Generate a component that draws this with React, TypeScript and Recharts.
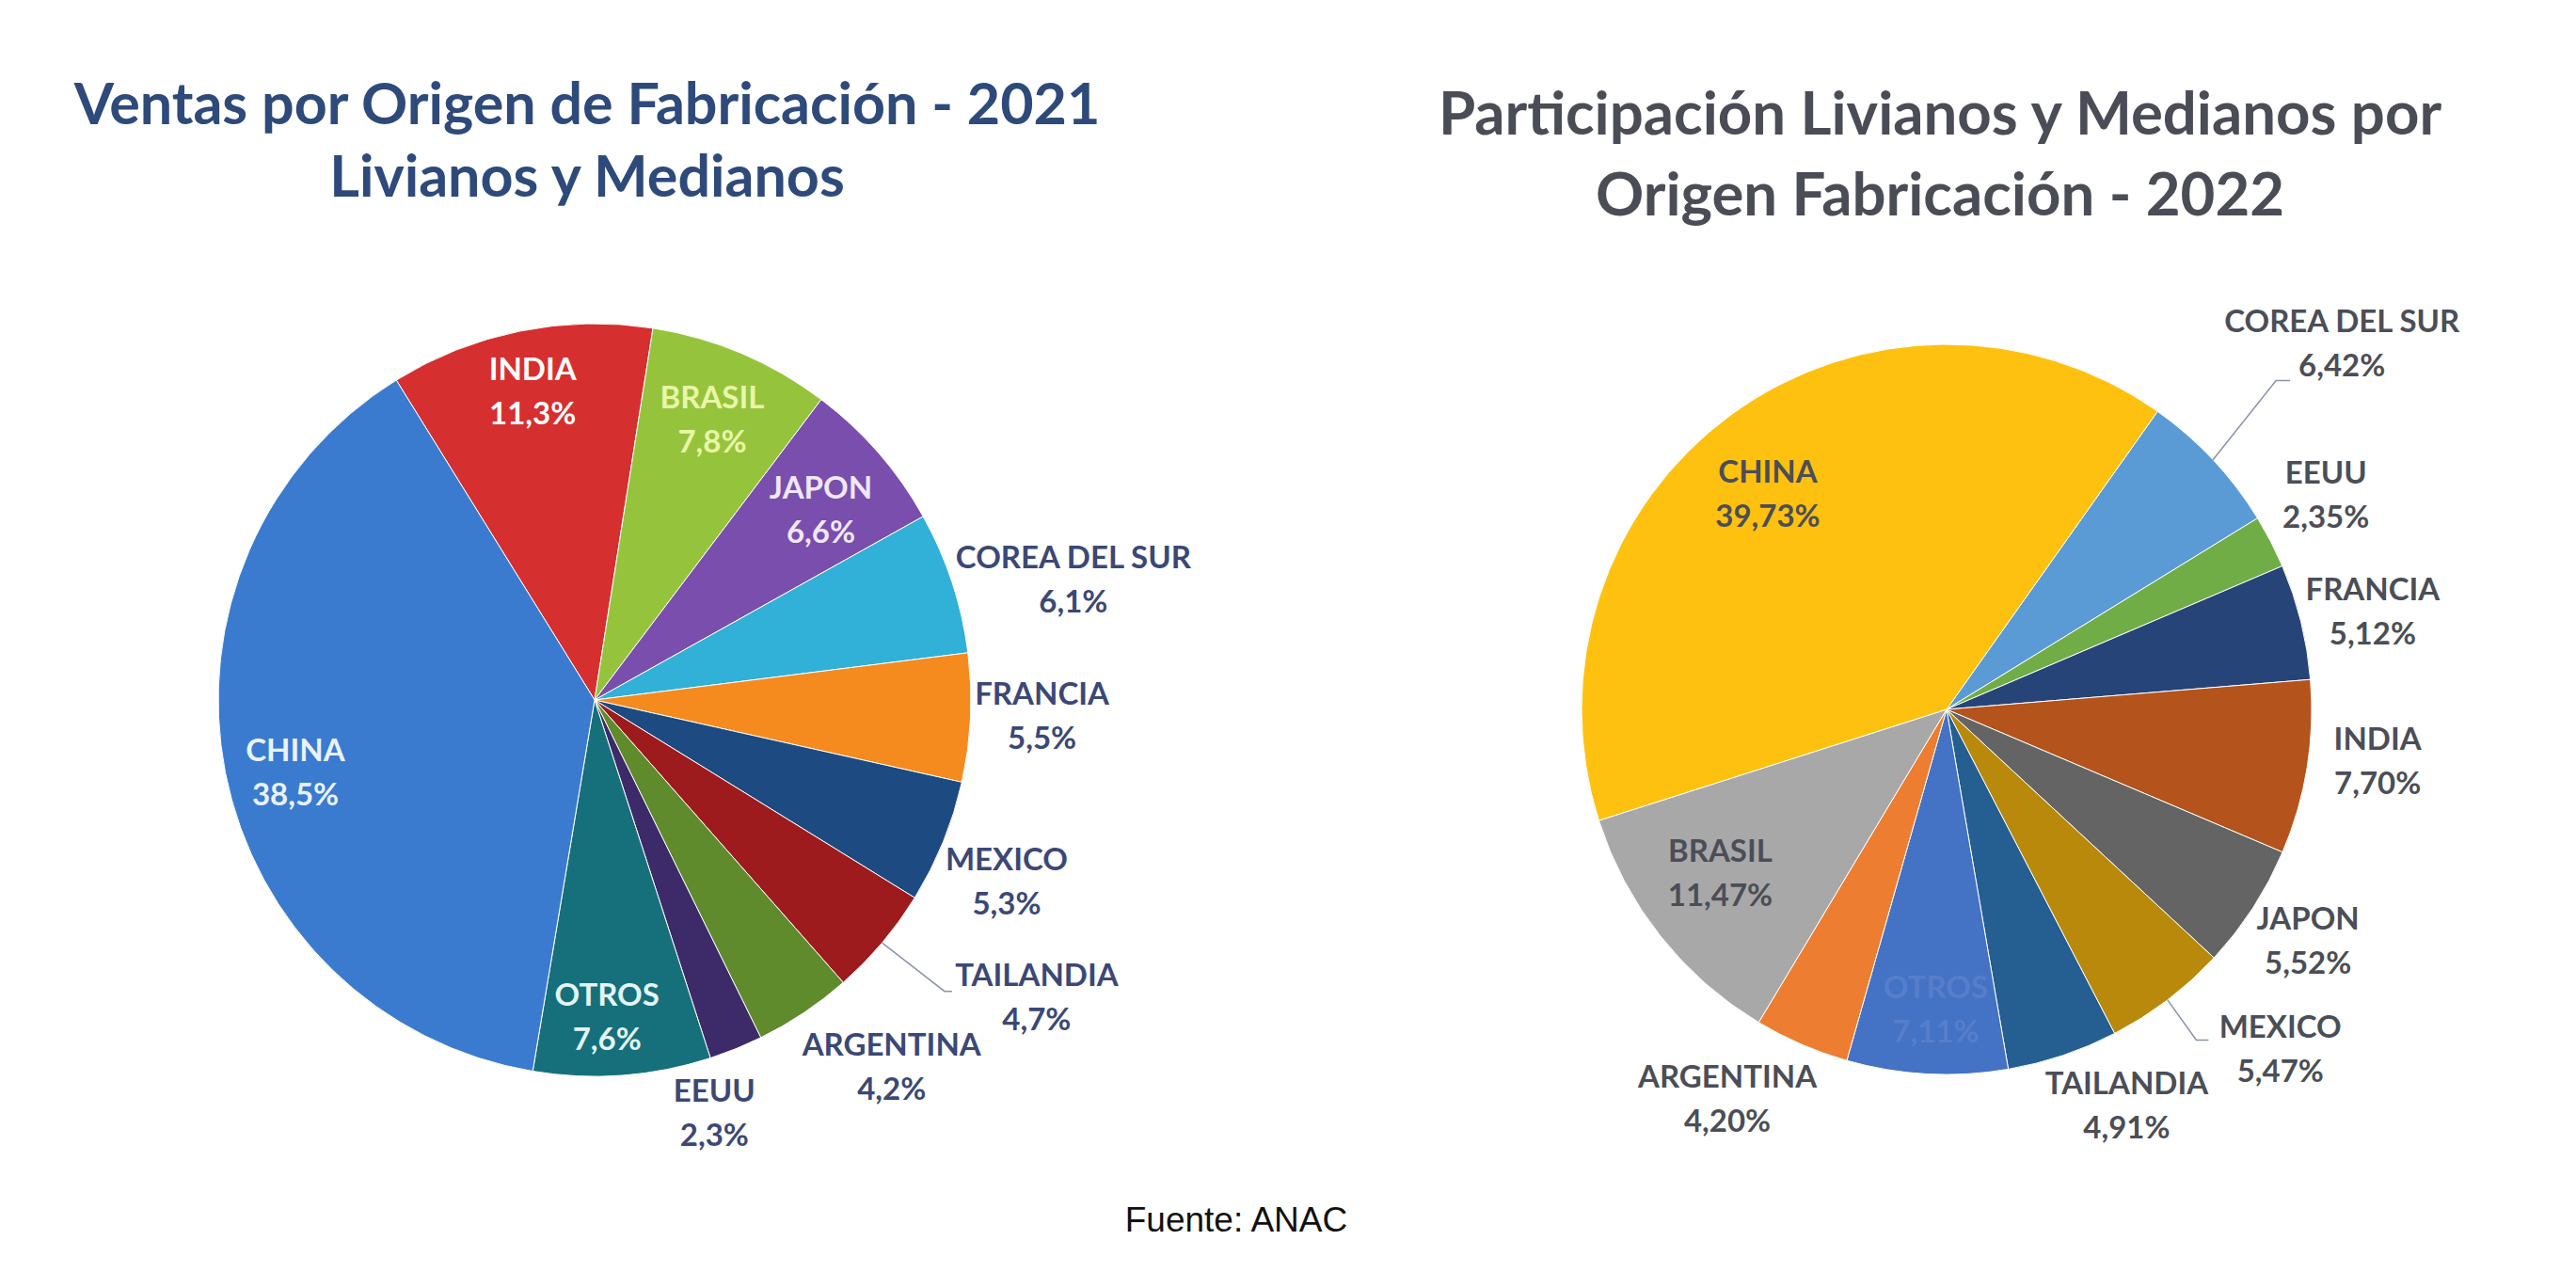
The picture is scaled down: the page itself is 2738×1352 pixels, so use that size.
import { PieChart, Pie, Cell } from 'recharts';

// 2021 - clockwise from INDIA
const PAISES_2021 = ['INDIA', 'BRASIL', 'JAPON', 'COREA DEL SUR', 'FRANCIA', 'MEXICO', 'TAILANDIA', 'ARGENTINA', 'EEUU', 'OTROS', 'CHINA'];
const VALORES_2021 = [11.3, 7.8, 6.6, 6.1, 5.5, 5.3, 4.7, 4.2, 2.3, 7.6, 38.5];

// 2022 - clockwise from COREA DEL SUR
const PAISES_2022 = ['COREA DEL SUR', 'EEUU', 'FRANCIA', 'INDIA', 'JAPON', 'MEXICO', 'TAILANDIA', 'OTROS', 'ARGENTINA', 'BRASIL', 'CHINA'];
const VALORES_2022 = [6.42, 2.35, 5.12, 7.7, 5.52, 5.47, 4.91, 7.11, 4.2, 11.47, 39.73];

const TITULO_2021 = ['Ventas por Origen de Fabricación - 2021', 'Livianos y Medianos'];
const TITULO_2022 = ['Participación Livianos y Medianos por', 'Origen Fabricación - 2022'];
const FUENTE = 'Fuente: ANAC';

const COLORES_2021 = ['#d62f2f', '#95c43c', '#7a4ead', '#31b0d8', '#f58a1f', '#1d4a80', '#9e1b1d', '#5f8b2c', '#3d2a68', '#16707b', '#3a7bd0'];
const COLORES_2022 = ['#5b9bd5', '#70ad47', '#264478', '#b4531b', '#646464', '#b8890a', '#255e91', '#4472c4', '#ed7d31', '#a8a8a8', '#fec10f'];

const OUT_2021 = '#3b4876';
const OUT_2022 = '#4b4e57';

// label placement: radius factor, angle shift (deg, clockwise), text colour, optional leader end
type LabelPos = { r: number; shift: number; color: string; line?: [number, number, number] };

const POS_2021: LabelPos[] = [
    { r: 0.83, shift: 0, color: '#ffffff' },
    { r: 0.8, shift: 0, color: '#e9f6a8' },
    { r: 0.78, shift: 1.5, color: '#efe8fa' },
    { r: 1.31, shift: 4.4, color: OUT_2021 },
    { r: 1.19, shift: -0.3, color: OUT_2021 },
    { r: 1.2, shift: 2, color: OUT_2021 },
    { r: 1.42, shift: -6, color: OUT_2021, line: [1.21, -0.4, 8] },
    { r: 1.26, shift: -5, color: OUT_2021 },
    { r: 1.15, shift: 6, color: OUT_2021 },
    { r: 0.85, shift: 2, color: '#e4f4f4' },
    { r: 0.82, shift: -3, color: '#eaf2fc' },
];

const POS_2022: LabelPos[] = [
    { r: 1.47, shift: 0.6, color: OUT_2022, line: [1.275, -1.8, 15] },
    { r: 1.19, shift: -1.8, color: OUT_2022 },
    { r: 1.196, shift: 1.3, color: OUT_2022 },
    { r: 1.19, shift: -2, color: OUT_2022 },
    { r: 1.18, shift: 0, color: OUT_2022 },
    { r: 1.31, shift: -7, color: OUT_2022, line: [1.135, 0.2, 13] },
    { r: 1.2, shift: -5.7, color: OUT_2022 },
    { r: 0.83, shift: -1, color: '#577ecb' },
    { r: 1.23, shift: 5.8, color: OUT_2022 },
    { r: 0.77, shift: 2, color: OUT_2022 },
    { r: 0.76, shift: -3.9, color: OUT_2022 },
];

const FONT = 'Lato, "Open Sans", sans-serif';
const RAD = Math.PI / 180;

const data2021 = PAISES_2021.map((name, i) => ({ name, value: VALORES_2021[i] }));
const data2022 = PAISES_2022.map((name, i) => ({ name, value: VALORES_2022[i] }));

function makeLabel(pos: LabelPos[], decimals: number) {
    return (props: any) => {
        const { cx, cy, midAngle, outerRadius, index, name, value } = props;
        const p = pos[index];
        const theta = 90 - midAngle + p.shift;
        const R = outerRadius * p.r;
        const x = cx + R * Math.sin(theta * RAD);
        const y = cy - R * Math.cos(theta * RAD);
        const txt = Number(value).toFixed(decimals).replace('.', ',') + '%';
        let leader = null;
        if (p.line) {
            const t0 = 90 - midAngle;
            const x0 = cx + outerRadius * Math.sin(t0 * RAD);
            const y0 = cy - outerRadius * Math.cos(t0 * RAD);
            const t1 = t0 + p.line[1];
            const x1 = cx + outerRadius * p.line[0] * Math.sin(t1 * RAD);
            const y1 = cy - outerRadius * p.line[0] * Math.cos(t1 * RAD);
            leader = (
                <polyline
                    points={`${x0},${y0} ${x1},${y1} ${x1 + p.line[2]},${y1}`}
                    fill="none"
                    stroke="#8a93a8"
                    strokeWidth={1.5}
                />
            );
        }
        return (
            <g>
                {leader}
                <text
                    x={x}
                    y={y}
                    fill={p.color}
                    textAnchor="middle"
                    fontFamily={FONT}
                    fontWeight={700}
                    fontSize={33}
                >
                    <tspan x={x} y={y - 28} dominantBaseline="central">{name}</tspan>
                    <tspan x={x} y={y + 19} dominantBaseline="central">{txt}</tspan>
                </text>
            </g>
        );
    };
}

function TitleLine({ text, cx, cy, size, color }: { text: string; cx: number; cy: number; size: number; color: string }) {
    return (
        <div
            style={{
                position: 'absolute',
                left: cx - 800,
                top: cy - 40,
                width: 1600,
                height: 80,
                lineHeight: '80px',
                textAlign: 'center',
                fontFamily: FONT,
                fontWeight: 700,
                fontSize: size,
                color,
                whiteSpace: 'nowrap',
            }}
        >
            {text}
        </div>
    );
}

export default function App() {
    return (
        <div style={{ position: 'absolute', left: 0, top: 0, width: 2738, height: 1352, background: '#ffffff', overflow: 'hidden' }}>
            <TitleLine text={TITULO_2021[0]} cx={624} cy={109} size={61} color="#2e4a7a" />
            <TitleLine text={TITULO_2021[1]} cx={624} cy={186} size={61} color="#2e4a7a" />
            <TitleLine text={TITULO_2022[0]} cx={2062} cy={119} size={63.5} color="#4a4d56" />
            <TitleLine text={TITULO_2022[1]} cx={2062} cy={205} size={63.5} color="#4a4d56" />

            <div style={{ position: 'absolute', left: 0, top: 0 }}>
                <PieChart width={2738} height={1352}>
                    <Pie
                        data={data2021}
                        dataKey="value"
                        nameKey="name"
                        cx={627}
                        cy={739}
                        outerRadius={400}
                        startAngle={121.8}
                        endAngle={-238.2}
                        stroke="#ffffff"
                        strokeWidth={1}
                        label={makeLabel(POS_2021, 1)}
                        labelLine={false}
                        isAnimationActive={false}
                    >
                        {data2021.map((d, i) => (
                            <Cell key={`a-${d.name}`} fill={COLORES_2021[i]} />
                        ))}
                    </Pie>
                    <Pie
                        data={data2022}
                        dataKey="value"
                        nameKey="name"
                        cx={2064}
                        cy={749}
                        outerRadius={388}
                        startAngle={54.7}
                        endAngle={-305.3}
                        stroke="#ffffff"
                        strokeWidth={1}
                        label={makeLabel(POS_2022, 2)}
                        labelLine={false}
                        isAnimationActive={false}
                    >
                        {data2022.map((d, i) => (
                            <Cell key={`b-${d.name}`} fill={COLORES_2022[i]} />
                        ))}
                    </Pie>
                </PieChart>
            </div>

            <div
                style={{
                    position: 'absolute',
                    left: 1014,
                    top: 1274,
                    width: 600,
                    textAlign: 'center',
                    fontFamily: '"Liberation Sans", Arial, sans-serif',
                    fontSize: 37,
                    lineHeight: '46px',
                    color: '#111111',
                }}
            >
                {FUENTE}
            </div>
        </div>
    );
}
